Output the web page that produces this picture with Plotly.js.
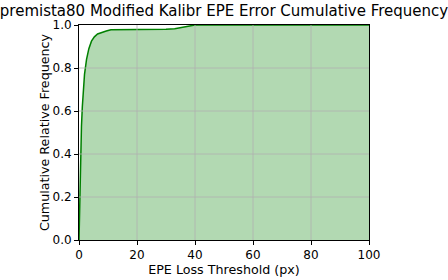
<!DOCTYPE html>
<html>
<head>
<meta charset="utf-8">
<script src="https://cdn.plot.ly/plotly-3.0.1.min.js"></script>
<style>html,body{margin:0;padding:0;background:#fff;}#chart{width:448px;height:280px;}</style>
</head>
<body>
<div id="chart"></div>
<script>
const thresholds = [0, 0.25, 0.55, 0.85, 1.15, 1.5, 1.9, 2.6, 3.4, 4.3, 5.3, 6.4, 7.8, 9.4, 11, 15, 20, 25, 30, 33, 35, 37, 38.5, 40, 60, 80, 100];
const cumFreq    = [0, 0.2, 0.4, 0.53, 0.62, 0.71, 0.77, 0.84, 0.89, 0.925, 0.945, 0.958, 0.966, 0.972, 0.978, 0.978, 0.978, 0.979, 0.98, 0.983, 0.988, 0.995, 0.999, 1.0, 1.0, 1.0, 1.0];
const xTicks = [0, 20, 40, 60, 80, 100];
const yTicks = [0, 0.2, 0.4, 0.6, 0.8, 1.0];

const font = "DejaVu Sans, sans-serif";
const trace = {
  x: thresholds, y: cumFreq, type: 'scatter', mode: 'lines',
  line: {color: 'rgb(0,128,0)', width: 1.5},
  fill: 'tozeroy', fillcolor: 'rgba(0,128,0,0.3)',
  hoverinfo: 'skip'
};
const gridStyle = {color: '#b0b0b0', width: 0.8};
const shapes = [];
xTicks.slice(1, -1).forEach(v => shapes.push({type: 'line', layer: 'above', xref: 'x', yref: 'paper', x0: v, x1: v, y0: 0, y1: 1, line: gridStyle}));
yTicks.slice(1, -1).forEach(v => shapes.push({type: 'line', layer: 'above', xref: 'paper', yref: 'y', x0: 0, x1: 1, y0: v, y1: v, line: gridStyle}));

const axisCommon = {
  showline: true, mirror: true, linecolor: '#000', linewidth: 1,
  ticks: 'outside', ticklen: 4, tickcolor: '#000', tickwidth: 1,
  showgrid: false, layer: 'above traces',
  zeroline: false, tickfont: {family: font, size: 12, color: '#000'}
};
const layout = {
  width: 448, height: 280,
  margin: {l: 79, r: 79, t: 25, b: 40},
  paper_bgcolor: '#fff', plot_bgcolor: '#fff',
  showlegend: false,
  shapes: shapes,
  title: {text: 'premista80 Modified Kalibr EPE Error Cumulative Frequency',
          font: {family: font, size: 15, color: '#000'},
          x: 0.5, xref: 'paper', y: 0.962, yref: 'container', xanchor: 'center', yanchor: 'middle'},
  xaxis: Object.assign({}, axisCommon, {
    range: [0, 100], tickvals: xTicks, ticktext: xTicks.map(String),
    title: {text: 'EPE Loss Threshold (px)', font: {family: font, size: 12.7, color: '#000'}, standoff: 2}
  }),
  yaxis: Object.assign({}, axisCommon, {
    range: [0, 1], tickvals: yTicks, ticktext: yTicks.map(v => v.toFixed(1)),
    title: {text: 'Cumulative Relative Frequency', font: {family: font, size: 12.7, color: '#000'}, standoff: 0}
  })
};
Plotly.newPlot('chart', [trace], layout, {staticPlot: true, displayModeBar: false});
</script>
</body>
</html>
